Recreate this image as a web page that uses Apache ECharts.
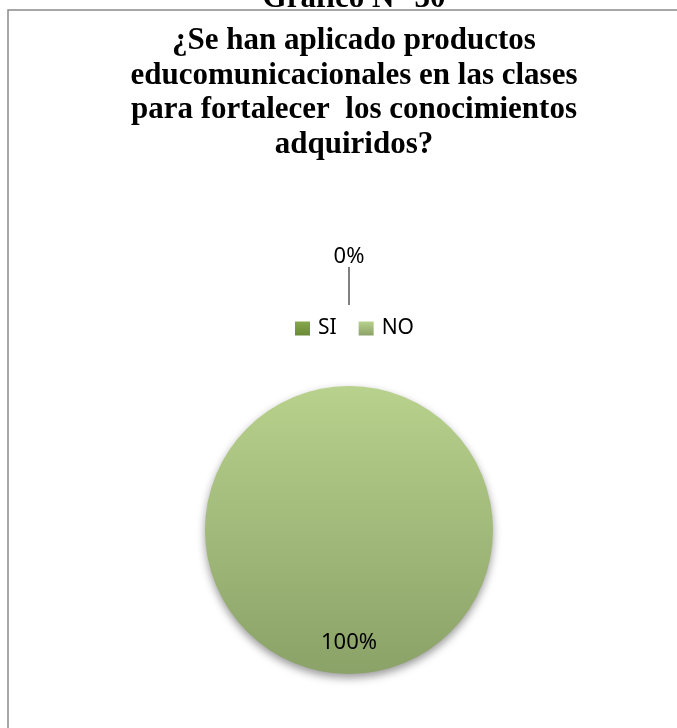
<!DOCTYPE html>
<html>
<head>
<meta charset="utf-8">
<script src="https://cdn.jsdelivr.net/npm/echarts@6/dist/echarts.min.js"></script>
<style>
  html, body { margin: 0; padding: 0; background: #fff; }
</style>
</head>
<body>
<div id="main" style="width: 677px;height:728px;"></div>
<script>
var categories = ['SI', 'NO'];
var values = [0, 100];
var titleLines = [
    '¿Se han aplicado productos',
    'educomunicacionales en las clases',
    'para fortalecer  los conocimientos',
    'adquiridos?'
];
var captionText = 'Gráfico N° 30';

var sliceColors = [
    new echarts.graphic.LinearGradient(0, 0, 0, 1, [
        { offset: 0, color: '#86a84a' }, { offset: 1, color: '#6a8a35' }
    ]),
    new echarts.graphic.LinearGradient(0, 0, 0, 1, [
        { offset: 0, color: '#b8d18c' }, { offset: 1, color: '#8ba268' }
    ])
];

var myChart = echarts.init(document.getElementById('main'));

var mainData = [];
var ghostData = [];
for (var i = 0; i < categories.length; i++) {
    mainData.push({
        name: categories[i],
        value: values[i],
        itemStyle: { color: sliceColors[i] },
        label: { show: values[i] > 0 }
    });
    // invisible, larger copy: only carries the 0% label and its leader line
    ghostData.push({
        name: categories[i],
        value: values[i],
        label: { show: values[i] === 0 },
        labelLine: { show: values[i] === 0 }
    });
}

function pctLabel(p) {
    return Math.round(p.percent) + '%';
}

var option = {
    animation: false,
    title: [{
        text: captionText,
        left: 349,
        textAlign: 'center',
        top: -22,
        textStyle: { fontFamily: 'Liberation Serif', fontWeight: 'bold', fontSize: 31, color: '#000' }
    }, {
        text: titleLines.join('\n'),
        left: 349,
        top: 19,
        textAlign: 'center',
        textStyle: {
            fontFamily: 'Liberation Serif', fontWeight: 'bold', fontSize: 31,
            lineHeight: 34.5, color: '#000'
        }
    }],
    legend: {
        top: 318,
        left: 295,
        icon: 'rect',
        itemWidth: 15,
        itemHeight: 14,
        itemGap: 22,
        padding: 0,
        selectedMode: false,
        textStyle: { fontFamily: 'Noto Sans', fontSize: 21, color: '#000', padding: [0, 0, 0, 3] },
        data: [
            { name: categories[0], itemStyle: { color: sliceColors[0] } },
            { name: categories[1], itemStyle: { color: sliceColors[1] } }
        ]
    },
    graphic: [{
        type: 'rect',
        silent: true,
        shape: { x: 8, y: 10, width: 720, height: 740 },
        style: { fill: 'none', stroke: '#8a8a8a', lineWidth: 1.5 }
    }],
    series: [
        {
            type: 'pie',
            center: [349, 530],
            radius: 144,
            startAngle: 90,
            silent: true,
            emphasis: { disabled: true },
            itemStyle: {
                shadowBlur: 8,
                shadowOffsetY: 4,
                shadowColor: 'rgba(0,0,0,0.4)'
            },
            label: {
                position: 'inside',
                formatter: pctLabel,
                fontFamily: 'Noto Sans',
                fontSize: 22,
                color: '#000'
            },
            labelLayout: { dy: 38 },
            labelLine: { show: false },
            data: mainData
        },
        {
            type: 'pie',
            center: [349, 530],
            radius: 225,
            startAngle: 90,
            silent: true,
            legendHoverLink: false,
            emphasis: { disabled: true },
            itemStyle: { color: 'rgba(0,0,0,0)' },
            label: {
                position: 'outside',
                formatter: pctLabel,
                fontFamily: 'Noto Sans',
                fontSize: 22,
                color: '#000'
            },
            labelLine: {
                length: 38,
                length2: 0,
                lineStyle: { color: '#000', width: 1 }
            },
            labelLayout: function () {
                return { align: 'center', verticalAlign: 'bottom', dx: 5, dy: 1 };
            },
            data: ghostData
        }
    ]
};
myChart.setOption(option);
</script>
</body>
</html>
